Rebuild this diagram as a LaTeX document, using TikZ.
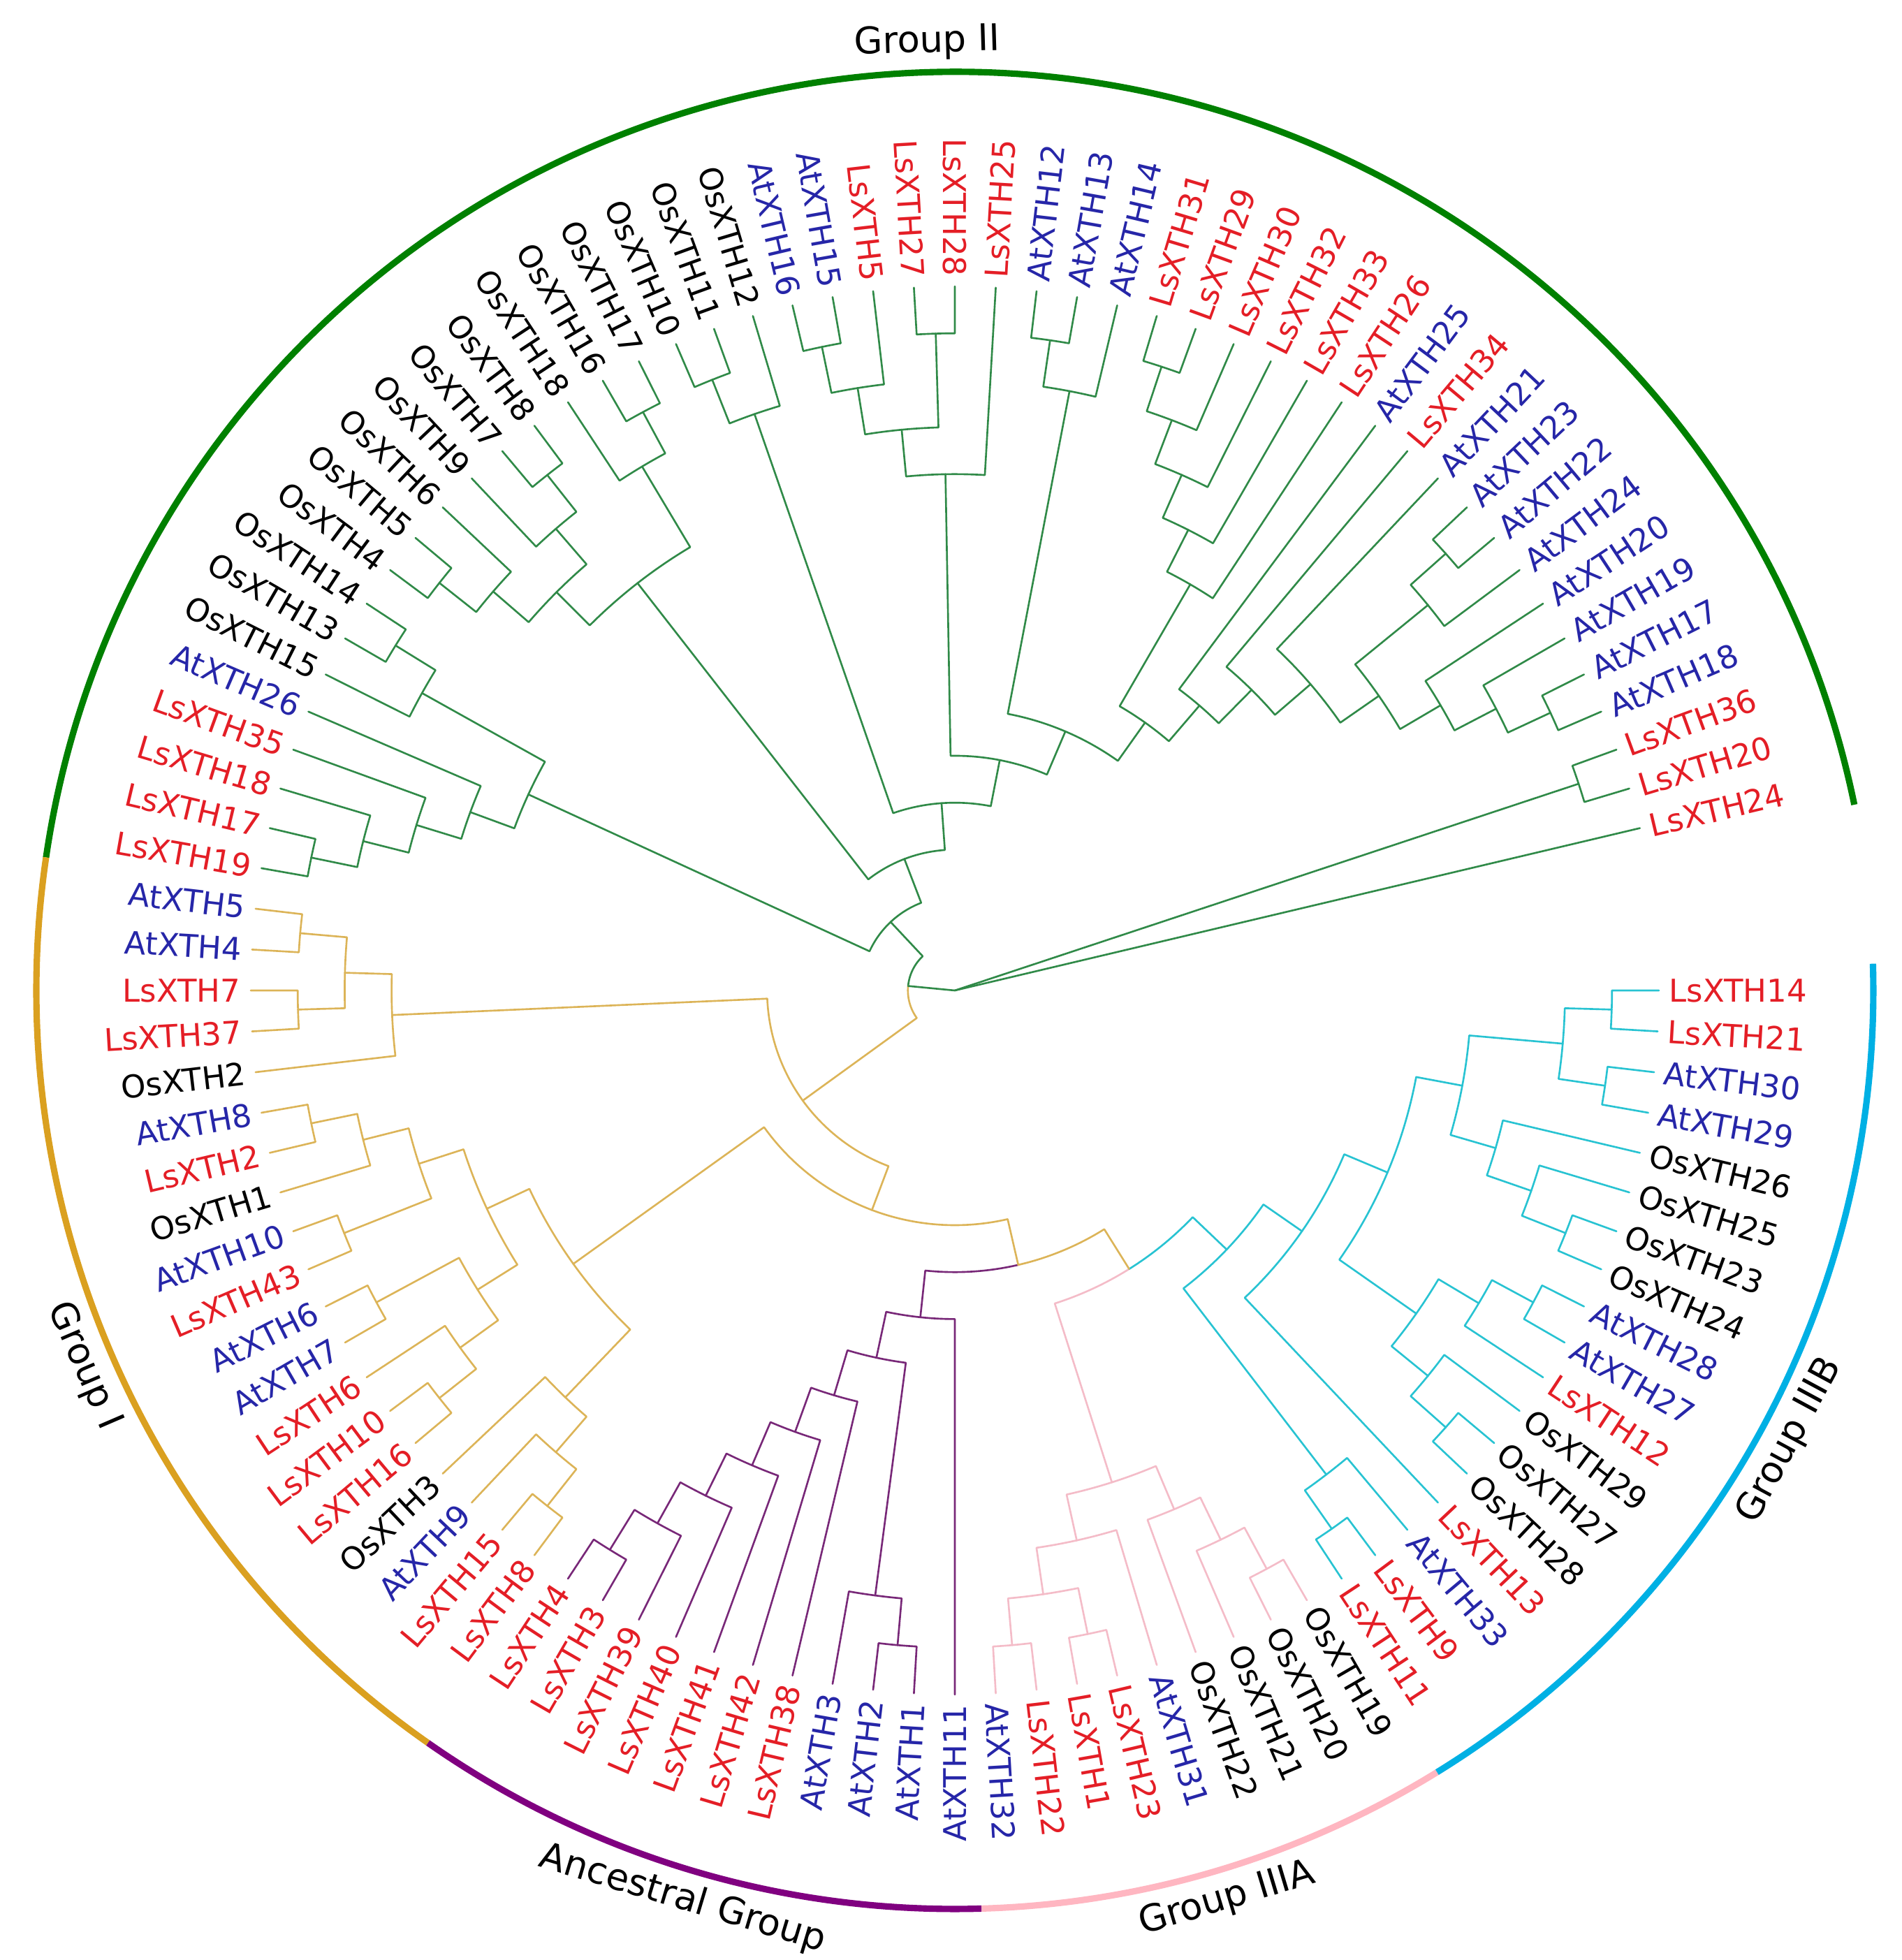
\documentclass[tikz,border=0pt]{standalone}
\usepackage{fontspec}
\setmainfont{DejaVu Sans}
\usepackage{tikz}
\definecolor{lsred}{RGB}{228,30,38}
\definecolor{atblue}{RGB}{38,38,168}
\definecolor{brgreen}{RGB}{48,138,72}
\definecolor{brgold}{RGB}{220,180,88}
\definecolor{brpurple}{RGB}{120,40,120}
\definecolor{brpink}{RGB}{244,188,200}
\definecolor{brcyan}{RGB}{40,195,210}
\definecolor{grgreen}{RGB}{0,128,0}
\definecolor{grgold}{RGB}{218,160,32}
\definecolor{grpurple}{RGB}{128,0,128}
\definecolor{grpink}{RGB}{255,182,193}
\definecolor{grcyan}{RGB}{0,176,228}
\tikzset{
  branch/.style={line width=0.75pt,line cap=round,line join=round},
  leaflabel/.style={inner sep=0pt,font=\fontsize{12.8}{15}\selectfont},
  grouplabel/.style={inner sep=0pt,font=\fontsize{15}{18}\selectfont,text=black},
  grouparc/.style={line width=2.6pt}
}
\newcommand\Rtip{10.08}
\newcommand\mkleaf[4]{%
  \pgfmathsetmacro\tmpang{360-#2*10/3}%
  \expandafter\xdef\csname tA.#1\endcsname{\tmpang}%
  \expandafter\xdef\csname tH.#1\endcsname{0}%
  \expandafter\xdef\csname tR.#1\endcsname{\Rtip}%
  \expandafter\xdef\csname tC.#1\endcsname{#3}%
  \pgfmathsetmacro\tmplr{\Rtip+0.14}%
  \ifdim\tmpang pt>89.9pt\relax
    \ifdim\tmpang pt<270.1pt\relax
      \pgfmathsetmacro\tmprot{\tmpang-180}%
      \node[leaflabel,text=#4,anchor=east,rotate=\tmprot] (lbl#1) at (\tmpang:\tmplr) {#1};%
    \else
      \node[leaflabel,text=#4,anchor=west,rotate=\tmpang] (lbl#1) at (\tmpang:\tmplr) {#1};%
    \fi
  \else
    \node[leaflabel,text=#4,anchor=west,rotate=\tmpang] (lbl#1) at (\tmpang:\tmplr) {#1};%
  \fi
}
\newcommand\mkbranch[2]{%
  \edef\brPA{\csname tA.#1\endcsname}%
  \edef\brPR{\csname tR.#1\endcsname}%
  \edef\brCA{\csname tA.#2\endcsname}%
  \edef\brCR{\csname tR.#2\endcsname}%
  \edef\brCC{\csname tC.#2\endcsname}%
  \draw[branch,draw=\brCC] (\brPA:\brPR) arc[start angle=\brPA, end angle=\brCA, radius=\brPR] -- (\brCA:\brCR);%
}
\newcommand\mkclade[4]{%
  \edef\tmpA{\csname tA.#2\endcsname}%
  \edef\tmpB{\csname tA.#3\endcsname}%
  \edef\tmpHA{\csname tH.#2\endcsname}%
  \edef\tmpHB{\csname tH.#3\endcsname}%
  \pgfmathsetmacro\tmpang{(\tmpA+\tmpB)/2}%
  \pgfmathsetmacro\tmph{max(\tmpHA,\tmpHB)+1}%
  \pgfmathsetmacro\tmpr{\Rtip*(1-\tmph/15)}%
  \expandafter\xdef\csname tA.#1\endcsname{\tmpang}%
  \expandafter\xdef\csname tH.#1\endcsname{\tmph}%
  \expandafter\xdef\csname tR.#1\endcsname{\tmpr}%
  \expandafter\xdef\csname tC.#1\endcsname{#4}%
  \mkbranch{#1}{#2}%
  \mkbranch{#1}{#3}%
}
\newcommand\mkrootbranch[1]{%
  \edef\brCA{\csname tA.#1\endcsname}%
  \edef\brCR{\csname tR.#1\endcsname}%
  \edef\brCC{\csname tC.#1\endcsname}%
  \draw[branch,draw=\brCC] (0,0) -- (\brCA:\brCR);%
}
\begin{document}
\begin{tikzpicture}
\useasboundingbox (-13.67,-13.88) rectangle (13.56,14.18);
% ---------- leaves: Group IIIB
\mkleaf{LsXTH14}{0}{brcyan}{lsred}
\mkleaf{LsXTH21}{1}{brcyan}{lsred}
\mkleaf{AtXTH30}{2}{brcyan}{atblue}
\mkleaf{AtXTH29}{3}{brcyan}{atblue}
\mkleaf{OsXTH26}{4}{brcyan}{black}
\mkleaf{OsXTH25}{5}{brcyan}{black}
\mkleaf{OsXTH23}{6}{brcyan}{black}
\mkleaf{OsXTH24}{7}{brcyan}{black}
\mkleaf{AtXTH28}{8}{brcyan}{atblue}
\mkleaf{AtXTH27}{9}{brcyan}{atblue}
\mkleaf{LsXTH12}{10}{brcyan}{lsred}
\mkleaf{OsXTH29}{11}{brcyan}{black}
\mkleaf{OsXTH27}{12}{brcyan}{black}
\mkleaf{OsXTH28}{13}{brcyan}{black}
\mkleaf{LsXTH13}{14}{brcyan}{lsred}
\mkleaf{AtXTH33}{15}{brcyan}{atblue}
\mkleaf{LsXTH9}{16}{brcyan}{lsred}
\mkleaf{LsXTH11}{17}{brcyan}{lsred}
% ---------- Group IIIA
\mkleaf{OsXTH19}{18}{brpink}{black}
\mkleaf{OsXTH20}{19}{brpink}{black}
\mkleaf{OsXTH21}{20}{brpink}{black}
\mkleaf{OsXTH22}{21}{brpink}{black}
\mkleaf{AtXTH31}{22}{brpink}{atblue}
\mkleaf{LsXTH23}{23}{brpink}{lsred}
\mkleaf{LsXTH1}{24}{brpink}{lsred}
\mkleaf{LsXTH22}{25}{brpink}{lsred}
\mkleaf{AtXTH32}{26}{brpink}{atblue}
% ---------- Ancestral
\mkleaf{AtXTH11}{27}{brpurple}{atblue}
\mkleaf{AtXTH1}{28}{brpurple}{atblue}
\mkleaf{AtXTH2}{29}{brpurple}{atblue}
\mkleaf{AtXTH3}{30}{brpurple}{atblue}
\mkleaf{LsXTH38}{31}{brpurple}{lsred}
\mkleaf{LsXTH42}{32}{brpurple}{lsred}
\mkleaf{LsXTH41}{33}{brpurple}{lsred}
\mkleaf{LsXTH40}{34}{brpurple}{lsred}
\mkleaf{LsXTH39}{35}{brpurple}{lsred}
\mkleaf{LsXTH3}{36}{brpurple}{lsred}
\mkleaf{LsXTH4}{37}{brpurple}{lsred}
% ---------- Group I
\mkleaf{LsXTH8}{38}{brgold}{lsred}
\mkleaf{LsXTH15}{39}{brgold}{lsred}
\mkleaf{AtXTH9}{40}{brgold}{atblue}
\mkleaf{OsXTH3}{41}{brgold}{black}
\mkleaf{LsXTH16}{42}{brgold}{lsred}
\mkleaf{LsXTH10}{43}{brgold}{lsred}
\mkleaf{LsXTH6}{44}{brgold}{lsred}
\mkleaf{AtXTH7}{45}{brgold}{atblue}
\mkleaf{AtXTH6}{46}{brgold}{atblue}
\mkleaf{LsXTH43}{47}{brgold}{lsred}
\mkleaf{AtXTH10}{48}{brgold}{atblue}
\mkleaf{OsXTH1}{49}{brgold}{black}
\mkleaf{LsXTH2}{50}{brgold}{lsred}
\mkleaf{AtXTH8}{51}{brgold}{atblue}
\mkleaf{OsXTH2}{52}{brgold}{black}
\mkleaf{LsXTH37}{53}{brgold}{lsred}
\mkleaf{LsXTH7}{54}{brgold}{lsred}
\mkleaf{AtXTH4}{55}{brgold}{atblue}
\mkleaf{AtXTH5}{56}{brgold}{atblue}
% ---------- Group II
\mkleaf{LsXTH19}{57}{brgreen}{lsred}
\mkleaf{LsXTH17}{58}{brgreen}{lsred}
\mkleaf{LsXTH18}{59}{brgreen}{lsred}
\mkleaf{LsXTH35}{60}{brgreen}{lsred}
\mkleaf{AtXTH26}{61}{brgreen}{atblue}
\mkleaf{OsXTH15}{62}{brgreen}{black}
\mkleaf{OsXTH13}{63}{brgreen}{black}
\mkleaf{OsXTH14}{64}{brgreen}{black}
\mkleaf{OsXTH4}{65}{brgreen}{black}
\mkleaf{OsXTH5}{66}{brgreen}{black}
\mkleaf{OsXTH6}{67}{brgreen}{black}
\mkleaf{OsXTH9}{68}{brgreen}{black}
\mkleaf{OsXTH7}{69}{brgreen}{black}
\mkleaf{OsXTH8}{70}{brgreen}{black}
\mkleaf{OsXTH18}{71}{brgreen}{black}
\mkleaf{OsXTH16}{72}{brgreen}{black}
\mkleaf{OsXTH17}{73}{brgreen}{black}
\mkleaf{OsXTH10}{74}{brgreen}{black}
\mkleaf{OsXTH11}{75}{brgreen}{black}
\mkleaf{OsXTH12}{76}{brgreen}{black}
\mkleaf{AtXTH16}{77}{brgreen}{atblue}
\mkleaf{AtXTH15}{78}{brgreen}{atblue}
\mkleaf{LsXTH5}{79}{brgreen}{lsred}
\mkleaf{LsXTH27}{80}{brgreen}{lsred}
\mkleaf{LsXTH28}{81}{brgreen}{lsred}
\mkleaf{LsXTH25}{82}{brgreen}{lsred}
\mkleaf{AtXTH12}{83}{brgreen}{atblue}
\mkleaf{AtXTH13}{84}{brgreen}{atblue}
\mkleaf{AtXTH14}{85}{brgreen}{atblue}
\mkleaf{LsXTH31}{86}{brgreen}{lsred}
\mkleaf{LsXTH29}{87}{brgreen}{lsred}
\mkleaf{LsXTH30}{88}{brgreen}{lsred}
\mkleaf{LsXTH32}{89}{brgreen}{lsred}
\mkleaf{LsXTH33}{90}{brgreen}{lsred}
\mkleaf{LsXTH26}{91}{brgreen}{lsred}
\mkleaf{AtXTH25}{92}{brgreen}{atblue}
\mkleaf{LsXTH34}{93}{brgreen}{lsred}
\mkleaf{AtXTH21}{94}{brgreen}{atblue}
\mkleaf{AtXTH23}{95}{brgreen}{atblue}
\mkleaf{AtXTH22}{96}{brgreen}{atblue}
\mkleaf{AtXTH24}{97}{brgreen}{atblue}
\mkleaf{AtXTH20}{98}{brgreen}{atblue}
\mkleaf{AtXTH19}{99}{brgreen}{atblue}
\mkleaf{AtXTH17}{100}{brgreen}{atblue}
\mkleaf{AtXTH18}{101}{brgreen}{atblue}
\mkleaf{LsXTH36}{102}{brgreen}{lsred}
\mkleaf{LsXTH20}{103}{brgreen}{lsred}
\mkleaf{LsXTH24}{104}{brgreen}{lsred}
% ---------- clades: Group IIIB
\mkclade{cA}{LsXTH14}{LsXTH21}{brcyan}
\mkclade{cB}{AtXTH30}{AtXTH29}{brcyan}
\mkclade{cAB}{cA}{cB}{brcyan}
\mkclade{cC}{OsXTH23}{OsXTH24}{brcyan}
\mkclade{cD}{OsXTH25}{cC}{brcyan}
\mkclade{cE}{OsXTH26}{cD}{brcyan}
\mkclade{cABE}{cAB}{cE}{brcyan}
\mkclade{cF}{AtXTH28}{AtXTH27}{brcyan}
\mkclade{cFb}{cF}{LsXTH12}{brcyan}
\mkclade{cK}{OsXTH27}{OsXTH28}{brcyan}
\mkclade{cJ}{OsXTH29}{cK}{brcyan}
\mkclade{cFc}{cFb}{cJ}{brcyan}
\mkclade{cG}{cABE}{cFc}{brcyan}
\mkclade{cH}{cG}{LsXTH13}{brcyan}
\mkclade{cM}{LsXTH9}{LsXTH11}{brcyan}
\mkclade{cN}{AtXTH33}{cM}{brcyan}
\mkclade{cIIIB}{cH}{cN}{brcyan}
% ---------- Group IIIA
\mkclade{L1}{LsXTH22}{AtXTH32}{brpink}
\mkclade{L2}{LsXTH1}{LsXTH23}{brpink}
\mkclade{L3}{L1}{L2}{brpink}
\mkclade{L4}{L3}{AtXTH31}{brpink}
\mkclade{L6}{OsXTH20}{OsXTH19}{brpink}
\mkclade{L7}{OsXTH21}{L6}{brpink}
\mkclade{L8}{OsXTH22}{L7}{brpink}
\mkclade{L9}{L4}{L8}{brpink}
% ---------- Ancestral
\mkclade{K9}{LsXTH4}{LsXTH3}{brpurple}
\mkclade{K8}{K9}{LsXTH39}{brpurple}
\mkclade{K7}{K8}{LsXTH40}{brpurple}
\mkclade{K6}{K7}{LsXTH41}{brpurple}
\mkclade{K5}{K6}{LsXTH42}{brpurple}
\mkclade{K4}{K5}{LsXTH38}{brpurple}
\mkclade{K1}{AtXTH2}{AtXTH1}{brpurple}
\mkclade{K2}{AtXTH3}{K1}{brpurple}
\mkclade{Kx}{K4}{K2}{brpurple}
\mkclade{K3}{Kx}{AtXTH11}{brpurple}
% ---------- Group I
\mkclade{G1a}{AtXTH5}{AtXTH4}{brgold}
\mkclade{G1b}{LsXTH7}{LsXTH37}{brgold}
\mkclade{G1c}{G1a}{G1b}{brgold}
\mkclade{G1}{G1c}{OsXTH2}{brgold}
\mkclade{H1}{AtXTH8}{LsXTH2}{brgold}
\mkclade{H2}{H1}{OsXTH1}{brgold}
\mkclade{H4}{AtXTH10}{LsXTH43}{brgold}
\mkclade{H3}{H2}{H4}{brgold}
\mkclade{H6}{AtXTH6}{AtXTH7}{brgold}
\mkclade{H9}{LsXTH10}{LsXTH16}{brgold}
\mkclade{H10}{LsXTH6}{H9}{brgold}
\mkclade{H11}{H6}{H10}{brgold}
\mkclade{H5}{H3}{H11}{brgold}
\mkclade{H12}{LsXTH15}{LsXTH8}{brgold}
\mkclade{H13}{AtXTH9}{H12}{brgold}
\mkclade{H14}{OsXTH3}{H13}{brgold}
\mkclade{G3}{H5}{H14}{brgold}
\mkclade{G5}{L9}{cIIIB}{brgold}
\mkclade{G4}{K3}{G5}{brgold}
\mkclade{G2}{G3}{G4}{brgold}
\mkclade{GR}{G1}{G2}{brgold}
% ---------- Group II
\mkclade{P1}{LsXTH19}{LsXTH17}{brgreen}
\mkclade{P2}{P1}{LsXTH18}{brgreen}
\mkclade{P3}{P2}{LsXTH35}{brgreen}
\mkclade{P4}{P3}{AtXTH26}{brgreen}
\mkclade{Q1}{OsXTH13}{OsXTH14}{brgreen}
\mkclade{Q2}{OsXTH15}{Q1}{brgreen}
\mkclade{P5}{P4}{Q2}{brgreen}
\mkclade{R1}{OsXTH4}{OsXTH5}{brgreen}
\mkclade{R2}{R1}{OsXTH6}{brgreen}
\mkclade{S1}{OsXTH7}{OsXTH8}{brgreen}
\mkclade{S2}{OsXTH9}{S1}{brgreen}
\mkclade{S3}{R2}{S2}{brgreen}
\mkclade{T1}{OsXTH16}{OsXTH17}{brgreen}
\mkclade{T2}{OsXTH18}{T1}{brgreen}
\mkclade{S4}{S3}{T2}{brgreen}
\mkclade{U1}{OsXTH10}{OsXTH11}{brgreen}
\mkclade{U2}{U1}{OsXTH12}{brgreen}
\mkclade{W1c}{AtXTH16}{AtXTH15}{brgreen}
\mkclade{W1b}{W1c}{LsXTH5}{brgreen}
\mkclade{Wl}{LsXTH27}{LsXTH28}{brgreen}
\mkclade{W1a}{W1b}{Wl}{brgreen}
\mkclade{W1}{W1a}{LsXTH25}{brgreen}
\mkclade{Wa}{AtXTH12}{AtXTH13}{brgreen}
\mkclade{W2a}{Wa}{AtXTH14}{brgreen}
\mkclade{AA1}{LsXTH31}{LsXTH29}{brgreen}
\mkclade{AA2}{AA1}{LsXTH30}{brgreen}
\mkclade{AA3}{AA2}{LsXTH32}{brgreen}
\mkclade{AA4}{AA3}{LsXTH33}{brgreen}
\mkclade{AA5}{AA4}{LsXTH26}{brgreen}
\mkclade{X1}{AtXTH23}{AtXTH22}{brgreen}
\mkclade{X2}{X1}{AtXTH24}{brgreen}
\mkclade{Y1}{AtXTH17}{AtXTH18}{brgreen}
\mkclade{Y2}{AtXTH19}{Y1}{brgreen}
\mkclade{Y3}{AtXTH20}{Y2}{brgreen}
\mkclade{Y4}{X2}{Y3}{brgreen}
\mkclade{Y5}{AtXTH21}{Y4}{brgreen}
\mkclade{W5}{LsXTH34}{Y5}{brgreen}
\mkclade{W4}{AtXTH25}{W5}{brgreen}
\mkclade{W3}{AA5}{W4}{brgreen}
\mkclade{W2}{W2a}{W3}{brgreen}
\mkclade{W}{W1}{W2}{brgreen}
\mkclade{V}{U2}{W}{brgreen}
\mkclade{Z}{S4}{V}{brgreen}
\mkclade{Y}{P5}{Z}{brgreen}
\mkclade{X0}{Y}{GR}{brgreen}
\mkclade{LN}{LsXTH36}{LsXTH20}{brgreen}
% ---------- root
\mkrootbranch{X0}
\mkrootbranch{LN}
\mkrootbranch{LsXTH24}
% ---------- group arcs
\draw[grouparc,grgreen] (11.67:13.15) arc[start angle=11.67,end angle=171.67,radius=13.15];
\draw[grouparc,grgold] (171.67:13.15) arc[start angle=171.67,end angle=235,radius=13.15];
\draw[grouparc,grpurple] (235:13.15) arc[start angle=235,end angle=271.67,radius=13.15];
\draw[grouparc,grpink] (271.67:13.15) arc[start angle=271.67,end angle=301.67,radius=13.15];
\draw[grouparc,grcyan] (301.67:13.15) arc[start angle=301.67,end angle=361.67,radius=13.15];
% ---------- group labels
\node[grouplabel,rotate=1.67] (gII) at (91.67:13.58) {Group II};
\node[grouplabel,rotate=-66.67] (gI) at (203.33:13.58) {Group I};
\node[grouplabel,rotate=-16.67] (gAnc) at (253.33:13.58) {Ancestral Group};
\node[grouplabel,rotate=16.67] (gIIIA) at (286.67:13.58) {Group IIIA};
\node[grouplabel,rotate=61.67] (gIIIB) at (331.67:13.58) {Group IIIB};
\end{tikzpicture}
\end{document}
